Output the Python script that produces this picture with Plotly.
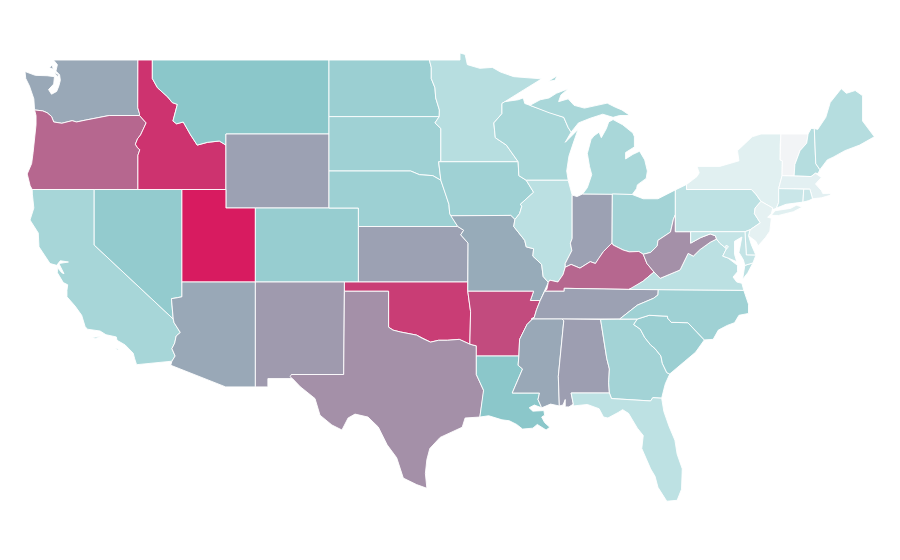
import plotly.graph_objects as go
from plotly.colors import sample_colorscale

# Data: one estimated value per state, read from the fill colours
states = ["WA","OR","CA","NV","ID","MT","WY","UT","AZ","CO","NM","ND","SD","NE","KS","OK","TX","MN","IA","MO","AR","LA","WI","IL","IN","MI","OH","KY","TN","MS","AL","GA","FL","SC","NC","VA","WV","PA","NY","VT","NH","ME","MA","CT","RI","NJ","DE","MD","DC"]
values = [59,78,36,46,93,50,61,100,59,44,63,42,40,41,61,90,66,28,40,58,86,50,35,26,61,35,38,78,61,59,62,38,25,42,40,26,66,25,10,1,29,29,9,20,20,8,22,22,10]
colorscale = [[0,"#f4f5f7"],[0.1,"#e1f0f1"],[0.26,"#bbe0e2"],[0.5,"#8bc7ca"],[1,"#d81b60"]]

# Base map: simplified state outlines in lon/lat (no topojson can be loaded offline)
outlines = {
"WA":["-123.0,49 -122.76,49 -122.5,48.75 -122.6,48.4 -122.35,48.2 -122.3,47.9 -122.4,47.6 -122.55,47.3 -122.9,47.15 -123.1,47.4 -122.75,47.7 -122.7,48.1 -123.2,48.15 -124.0,48.17 -124.7,48.38 -124.65,48.0 -124.4,47.6 -124.1,46.9 -124.05,46.3 -123.5,46.25 -123.2,46.15 -122.9,45.95 -122.75,45.65 -122.2,45.58 -121.5,45.72 -121.2,45.65 -120.6,45.75 -119.9,45.85 -119.3,45.93 -118.98,46 -116.92,46 -116.92,46.1 -117.04,46.42 -117.03,49",
      "-123.05,48.6 -122.85,48.72 -122.78,48.5","-122.72,48.35 -122.5,48.1 -122.42,48.2"],
"OR":["-124.05,46.3 -123.5,46.25 -123.2,46.15 -122.9,45.95 -122.75,45.65 -122.2,45.58 -121.5,45.72 -121.2,45.65 -120.6,45.75 -119.9,45.85 -119.3,45.93 -118.98,46 -116.92,46 -116.47,45.6 -116.7,45.2 -116.85,44.95 -117.05,44.75 -117.2,44.45 -117.05,44.25 -116.9,44.15 -117.03,43.85 -117.03,42 -124.21,42 -124.35,42.2 -124.55,42.84 -124.25,43.4 -124.15,44 -124.07,44.7 -123.95,45.5 -123.95,46"],
"CA":["-124.21,42 -120,42 -120,39 -114.63,35 -114.57,34.8 -114.15,34.27 -114.43,34.08 -114.53,33.7 -114.72,33.4 -114.5,33 -114.72,32.72 -117.12,32.53 -117.25,32.85 -117.35,33.15 -117.9,33.6 -118.45,33.85 -118.5,34.03 -119.2,34.15 -119.6,34.35 -120.47,34.45 -120.62,34.6 -120.85,35.2 -121.3,35.7 -121.85,36.2 -121.85,36.55 -121.8,36.85 -122.1,36.97 -122.5,37.5 -122.5,37.78 -122.2,37.5 -122.05,37.45 -122.3,37.8 -122.4,38.0 -121.75,38.08 -122.3,38.15 -122.55,37.9 -123,38 -123.75,38.9 -123.8,39.65 -124.36,40.35 -124.1,41 -124.2,41.75",
      "-120.2,34.0 -119.55,34.05 -119.9,33.95","-118.6,33.45 -118.3,33.35 -118.45,33.32"],
"NV":["-120,42 -114.04,42 -114.04,36.2 -114.35,36.15 -114.75,36.1 -114.7,35.6 -114.63,35 -120,39"],
"ID":["-117.03,49 -116.05,49 -116.05,48 -115.7,47.5 -115,47 -114.7,46.7 -114.35,46.6 -114.65,45.7 -114.4,45.55 -113.95,45.65 -113.45,44.95 -113,44.4 -112.3,44.55 -111.5,44.62 -111.05,44.4 -111.05,42 -117.03,42 -117.03,43.85 -116.9,44.15 -117.05,44.25 -117.2,44.45 -117.05,44.75 -116.85,44.95 -116.7,45.2 -116.47,45.6 -116.92,46 -116.92,46.1 -117.04,46.42"],
"MT":["-116.05,49 -104.05,49 -104.05,45 -111.05,45 -111.05,44.4 -111.5,44.62 -112.3,44.55 -113,44.4 -113.45,44.95 -113.95,45.65 -114.4,45.55 -114.65,45.7 -114.35,46.6 -114.7,46.7 -115,47 -115.7,47.5 -116.05,48"],
"WY":["-111.05,45 -104.05,45 -104.05,41 -111.05,41"],
"UT":["-114.04,42 -111.05,42 -111.05,41 -109.05,41 -109.05,37 -114.04,37"],
"AZ":["-114.04,37 -109.05,37 -109.05,31.33 -111.07,31.33 -114.8,32.5 -114.72,32.72 -114.5,33 -114.72,33.4 -114.53,33.7 -114.43,34.08 -114.15,34.27 -114.57,34.8 -114.63,35 -114.7,35.6 -114.75,36.1 -114.35,36.15 -114.04,36.2"],
"CO":["-109.05,41 -102.05,41 -102.05,37 -109.05,37"],
"NM":["-109.05,37 -103,37 -103.05,32 -106.6,32 -106.53,31.78 -108.2,31.78 -108.2,31.33 -109.05,31.33"],
"ND":["-104.05,49 -97.23,49 -97.1,48.6 -97.1,48 -96.85,47.5 -96.8,46.95 -96.55,46.3 -96.56,45.94 -104.05,45.94"],
"SD":["-104.05,45.94 -96.56,45.94 -96.85,45.6 -96.45,45.3 -96.45,43.5 -96.6,43.5 -96.45,42.5 -97,42.75 -97.9,42.8 -98.5,43 -104.05,43"],
"NE":["-104.05,43 -98.5,43 -97.9,42.8 -97,42.75 -96.45,42.5 -96.3,42.2 -96.1,41.7 -95.9,41.2 -95.85,40.7 -95.3,40 -102.05,40 -102.05,41 -104.05,41"],
"KS":["-102.05,40 -95.3,40 -94.9,39.8 -95.1,39.55 -94.6,39.1 -94.62,37 -102.05,37"],
"OK":["-103,37 -94.62,37 -94.62,36.5 -94.43,35.4 -94.48,33.64 -95.2,33.9 -96,33.85 -96.6,33.85 -97.15,33.75 -97.7,33.95 -98.1,34.13 -99.2,34.3 -99.7,34.4 -100,34.56 -100,36.5 -103,36.5"],
"TX":["-103.05,32 -103,36.5 -100,36.5 -100,34.56 -99.7,34.4 -99.2,34.3 -98.1,34.13 -97.7,33.95 -97.15,33.75 -96.6,33.85 -96,33.85 -95.2,33.9 -94.48,33.64 -94.04,33.55 -94.04,32 -93.55,31.15 -93.55,31 -93.72,30.1 -93.8,29.7 -94.8,29.65 -95,29.15 -96.5,28.6 -97.2,28 -97.4,27.4 -97.5,26.65 -97.4,25.85 -98.1,26.05 -99,26.4 -99.45,27.5 -100.1,28.2 -100.7,29.16 -101.4,29.7 -102.28,29.86 -102.75,29.65 -103.17,29 -103.85,29.27 -104.66,29.8 -105,30.7 -106,31.34 -106.53,31.78 -106.7,31.88 -106.6,32"],
"MN":["-97.23,49 -95.15,49 -95.15,49.38 -94.8,49.3 -94.65,48.75 -93.8,48.55 -92.95,48.6 -92.4,48.35 -91.5,48.1 -90.85,48.05 -89.6,47.98 -90.85,47.37 -92.1,46.75 -92.3,46.65 -92.3,46.1 -92.85,45.6 -92.75,44.8 -92,44.4 -91.2,43.5 -96.45,43.5 -96.45,45.3 -96.85,45.6 -96.56,45.94 -96.55,46.3 -96.8,46.95 -96.85,47.5 -97.1,48 -97.1,48.6"],
"IA":["-96.6,43.5 -91.2,43.5 -91.15,42.75 -90.65,42.5 -90.15,41.85 -91.05,41.2 -90.95,41.1 -91.1,40.7 -91.42,40.38 -91.7,40.6 -95.77,40.58 -95.85,40.7 -95.9,41.2 -96.1,41.7 -96.3,42.2 -96.45,42.5"],
"MO":["-95.77,40.58 -91.7,40.6 -91.42,40.38 -91.5,40 -90.75,39.25 -90.65,38.9 -90.15,38.8 -90.2,38.4 -89.6,37.95 -89.5,37.3 -89.15,36.98 -89.4,36.5 -89.7,36 -90.37,36 -90.15,36.5 -94.62,36.5 -94.62,37 -94.6,39.1 -95.1,39.55 -94.9,39.8 -95.3,40"],
"AR":["-94.62,36.5 -90.15,36.5 -90.37,36 -89.7,36 -89.95,35.5 -90.1,35.1 -90.6,34.7 -91.1,33.9 -91.15,33 -94.04,33 -94.04,33.55 -94.48,33.64 -94.43,35.4"],
"LA":["-94.04,33 -91.15,33 -91.2,32.5 -90.9,32.3 -91.6,31 -89.75,31 -89.85,30.65 -89.6,30.2 -90.1,30.35 -90.45,30.2 -90.2,30.02 -89.75,30.05 -89.45,30.05 -89.4,29.8 -89.6,29.7 -89.4,29.4 -89.05,29.15 -89.3,29 -89.9,29.3 -90.2,29.1 -90.9,29.05 -91.3,29.3 -91.8,29.5 -92.3,29.55 -93.2,29.77 -93.8,29.7 -93.72,30.1 -93.55,31 -93.55,31.15 -94.04,32"],
"WI":["-92.3,46.65 -92.1,46.75 -91.2,46.85 -90.85,46.95 -90.75,46.65 -90.4,46.55 -89.1,46.15 -88.1,45.9 -87.8,45.35 -87.6,45.1 -88,44.55 -87.6,44.85 -87.13,45.25 -87.5,44.4 -87.75,43.8 -87.9,43 -87.8,42.5 -90.65,42.5 -91.15,42.75 -91.2,43.5 -92,44.4 -92.75,44.8 -92.85,45.6 -92.3,46.1"],
"IL":["-90.65,42.5 -87.8,42.5 -87.53,41.7 -87.53,39.35 -87.65,39.1 -87.55,38.7 -88,38 -88,37.8 -88.15,37.4 -88.5,37 -89.05,37.1 -89.15,36.98 -89.5,37.3 -89.6,37.95 -90.2,38.4 -90.15,38.8 -90.65,38.9 -90.75,39.25 -91.5,40 -91.42,40.38 -91.1,40.7 -90.95,41.1 -91.05,41.2 -90.15,41.85"],
"IN":["-87.53,41.7 -87.2,41.62 -86.82,41.76 -84.8,41.76 -84.82,39.1 -84.9,39.05 -85.4,38.65 -85.75,38.25 -85.95,38 -86.3,38.1 -87,37.75 -87.6,37.95 -88,37.8 -88,38 -87.55,38.7 -87.65,39.1 -87.53,39.35"],
"MI":["-86.82,41.76 -84.8,41.76 -83.45,41.73 -83.15,42.05 -83.1,42.25 -82.5,42.6 -82.42,43 -82.6,43.6 -82.95,44.07 -83.4,43.9 -83.9,43.65 -83.9,44 -83.3,44.3 -83.3,44.85 -83.4,45.05 -84.1,45.5 -84.45,45.65 -84.75,45.78 -85.05,45.65 -85.2,45.3 -85.55,44.8 -85.7,45.1 -86.05,44.9 -86.25,44.7 -86.5,43.95 -86.35,43.25 -86.2,42.8 -86.5,42.1",
      "-90.4,46.55 -89.1,46.15 -88.1,45.9 -87.8,45.35 -87.6,45.1 -87.1,45.6 -86.3,45.85 -85.45,46.07 -84.75,45.9 -84.3,46.0 -83.6,46.0 -84.15,46.3 -84.6,46.45 -85.15,46.67 -86.7,46.4 -87.4,46.55 -87.8,46.9 -88.45,46.75 -88.3,47.1 -87.8,47.45 -88.6,47.2 -89.1,46.95 -89.7,46.85",
      "-89.15,47.85 -88.55,48.15 -88.7,47.9"],
"OH":["-84.8,41.76 -83.45,41.73 -82.7,41.5 -81.7,41.5 -80.52,41.98 -80.52,40.64 -80.65,40.4 -80.85,39.7 -81.7,39.25 -81.75,38.95 -82.2,38.6 -82.7,38.5 -83,38.65 -83.65,38.63 -84.07,38.73 -84.75,39.0 -84.82,39.1"],
"KY":["-84.82,39.1 -84.75,39.0 -84.07,38.73 -83.65,38.63 -83,38.65 -82.7,38.5 -82.45,38 -81.97,37.54 -82.7,37.05 -83.4,36.67 -83.67,36.6 -88.07,36.66 -88.07,36.5 -89.4,36.5 -89.25,36.6 -89.15,36.98 -89.05,37.1 -88.5,37 -88.15,37.4 -88,37.8 -87.6,37.95 -87,37.75 -86.3,38.1 -85.95,38 -85.75,38.25 -85.4,38.65 -84.9,39.05"],
"TN":["-89.7,36 -89.4,36.5 -88.07,36.5 -88.07,36.66 -83.67,36.6 -81.68,36.59 -81.7,36.3 -82,36.12 -83.1,35.75 -84.3,35 -88.2,35 -90.3,35 -90.1,35.1 -89.95,35.5"],
"MS":["-90.3,35 -88.2,35 -88.1,34.9 -88.47,31.9 -88.4,30.3 -89,30.4 -89.6,30.2 -89.85,30.65 -89.75,31 -91.6,31 -90.9,32.3 -91.2,32.5 -91.15,33 -91.1,33.9 -90.6,34.7 -90.1,35.1"],
"AL":["-88.2,35 -85.6,34.98 -85.18,32.87 -85,32.3 -85.05,31.55 -85,31 -87.6,31 -87.45,30.4 -87.75,30.25 -88,30.25 -88,30.65 -88.15,30.35 -88.4,30.3 -88.47,31.9 -88.1,34.9"],
"GA":["-85.6,34.98 -83.1,35 -83.35,34.7 -82.9,34.45 -82.6,34 -82.2,33.6 -81.9,33.4 -81.5,33 -81.4,32.6 -81.1,32.1 -80.9,32.03 -81.2,31.5 -81.3,31.2 -81.45,30.72 -82.05,30.75 -82.2,30.57 -84.86,30.7 -85,31 -85.05,31.55 -85,32.3 -85.18,32.87"],
"FL":["-87.6,31 -85,31 -84.86,30.7 -82.2,30.57 -82.05,30.75 -81.45,30.72 -81.3,30 -80.95,29.2 -80.55,28.45 -80.4,27.7 -80.05,26.9 -80.1,25.8 -80.4,25.2 -81.1,25.15 -81.7,25.9 -81.9,26.5 -82.2,26.9 -82.65,27.7 -82.8,28 -82.7,28.7 -83.1,29.1 -83.7,29.9 -84.1,30.1 -84.4,29.95 -85.1,29.65 -85.4,29.7 -85.7,30.15 -86.5,30.38 -87.45,30.3 -87.45,30.4"],
"SC":["-83.1,35 -82.3,35.2 -81.05,35.15 -81.05,35.05 -80.8,34.82 -79.67,34.8 -78.55,33.87 -79.15,33.2 -79.9,32.7 -80.5,32.3 -80.9,32.03 -81.1,32.1 -81.4,32.6 -81.5,33 -81.9,33.4 -82.2,33.6 -82.6,34 -82.9,34.45 -83.35,34.7"],
"NC":["-84.3,35 -83.1,35 -82.3,35.2 -81.05,35.15 -81.05,35.05 -80.8,34.82 -79.67,34.8 -78.55,33.87 -77.95,33.9 -77.6,34.4 -77,34.65 -76.5,34.8 -76.2,35.2 -75.55,35.3 -75.55,35.8 -75.87,36.55 -81.68,36.59 -81.7,36.3 -82,36.12 -83.1,35.75"],
"VA":["-83.67,36.6 -81.68,36.59 -75.87,36.55 -76,36.93 -76.35,37 -76.6,37.27 -76.3,37.55 -76.3,37.9 -76.95,38.3 -77.3,38.4 -77.05,38.8 -77.5,39.1 -77.72,39.32 -78.15,39.15 -78.85,38.75 -79.3,38.4 -79.65,38.55 -80.2,37.65 -81.55,37.2 -81.97,37.54 -82.7,37.05",
      "-75.95,37.15 -75.8,37.9 -75.25,38.03 -75.6,37.5"],
"WV":["-80.52,40.64 -80.52,39.72 -79.48,39.72 -79.48,39.1 -78.8,39.4 -78.15,39.6 -77.8,39.5 -77.72,39.32 -78.15,39.15 -78.85,38.75 -79.3,38.4 -79.65,38.55 -80.2,37.65 -81.55,37.2 -81.97,37.54 -82.45,38 -82.7,38.5 -82.2,38.6 -81.75,38.95 -81.7,39.25 -80.85,39.7 -80.65,40.4"],
"MD":["-79.48,39.72 -75.79,39.72 -75.7,38.46 -75.05,38.45 -75.25,38.03 -75.8,37.9 -75.9,38.2 -76.2,38.6 -76.0,39.43 -76.5,39.2 -76.5,38.5 -76.35,38.1 -76.95,38.3 -77.3,38.4 -77.05,38.8 -77.5,39.1 -77.72,39.32 -77.8,39.5 -78.15,39.6 -78.8,39.4 -79.48,39.1"],
"DC":["-77.12,38.93 -77.04,39 -76.91,38.89 -77.04,38.79"],
"DE":["-75.79,39.72 -75.45,39.82 -75.55,39.5 -75.35,39 -75.05,38.45 -75.7,38.46"],
"PA":["-80.52,41.98 -80.1,42.15 -79.76,42.27 -79.76,42 -75.35,42 -75.05,41.75 -74.7,41.36 -75.1,41 -75.15,40.7 -74.75,40.2 -75.45,39.82 -75.79,39.72 -80.52,39.72"],
"NY":["-79.76,42.27 -79.05,42.7 -78.9,42.9 -79.05,43.25 -77.5,43.25 -76.5,43.5 -76.2,43.55 -76.3,44.1 -75.3,44.85 -74.7,45 -73.35,45 -73.4,44.4 -73.4,43.6 -73.25,43.55 -73.27,42.75 -73.5,42.05 -73.5,41.3 -73.65,41 -73.9,40.9 -74,40.7 -73.9,41 -74.7,41.36 -75.05,41.75 -75.35,42 -79.76,42",
      "-74,40.6 -73.75,40.85 -72.7,40.98 -72.3,41.15 -71.9,41.05 -72.5,40.8 -73.5,40.6"],
"NJ":["-74.7,41.36 -73.9,41 -74,40.7 -74.25,40.5 -74,40.45 -74.1,39.75 -74.4,39.4 -74.9,38.95 -75.05,39.2 -75.55,39.5 -75.45,39.82 -74.75,40.2 -75.15,40.7 -75.1,41"],
"CT":["-73.5,42.05 -71.8,42.02 -71.85,41.32 -72.4,41.28 -73,41.2 -73.65,41 -73.5,41.3"],
"RI":["-71.8,42.02 -71.38,42.02 -71.2,41.5 -71.45,41.4 -71.85,41.32"],
"MA":["-73.5,42.05 -73.27,42.75 -71.3,42.7 -71,42.88 -70.6,42.65 -71,42.3 -70.6,41.95 -70.5,41.78 -70,41.8 -70.2,42.07 -69.95,41.7 -70.6,41.55 -71.2,41.5 -71.38,42.02 -71.8,42.02"],
"VT":["-73.35,45 -71.5,45 -71.6,44.5 -72.05,44.1 -72.4,43.35 -72.45,42.73 -73.27,42.75 -73.25,43.55 -73.4,43.6 -73.4,44.4"],
"NH":["-71.5,45 -71.3,45.3 -71.08,45.3 -70.98,43.4 -70.7,43.07 -70.82,42.87 -71,42.88 -71.3,42.7 -72.45,42.73 -72.4,43.35 -72.05,44.1 -71.6,44.5"],
"ME":["-71.08,45.3 -70.85,45.25 -70.3,45.9 -70,46.7 -69.25,47.45 -68.9,47.2 -68.3,47.35 -67.8,47.07 -67.8,45.7 -67.45,45.3 -67,44.85 -68,44.4 -69,44.1 -69.8,43.75 -70.2,43.6 -70.7,43.07 -70.98,43.4"],
}

def parts(state):
    xs, ys = [], []
    for ring in outlines[state]:
        pts = [p.split(",") for p in ring.split()]
        xs += [float(p[0]) for p in pts] + [float(pts[0][0]), None]
        ys += [float(p[1]) for p in pts] + [float(pts[0][1]), None]
    return xs, ys

fig = go.Figure()
for st, v in zip(states, values):
    x, y = parts(st)
    fig.add_trace(go.Scatter(x=x, y=y, mode="lines", fill="toself", name=st, text=f"{st}: {v}",
        hoverinfo="text", hoveron="fills",
        line=dict(color="white", width=0.9),
        fillcolor=sample_colorscale(colorscale, v/100)[0]))

fig.update_xaxes(range=[-125.855,-64.715], visible=False, fixedrange=True)
fig.update_yaxes(range=[21.541,51.811], visible=False, fixedrange=True)
fig.update_layout(margin=dict(l=0,r=0,t=0,b=0), width=900, height=560, showlegend=False,
                  paper_bgcolor="white", plot_bgcolor="white")
fig.write_html("out.html")
